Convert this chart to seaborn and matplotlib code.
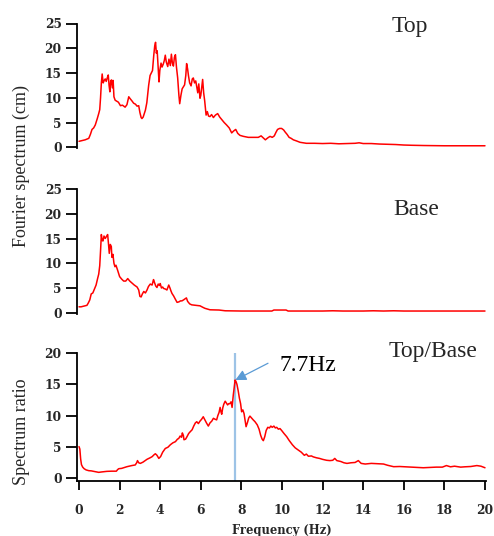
import matplotlib
matplotlib.use("Agg")
import matplotlib.pyplot as plt
import seaborn as sns
import pandas as pd

# ---------------- data ----------------
top_freq = [0.0, 0.1, 0.3, 0.48, 0.56, 0.64, 0.72, 0.8, 0.9, 0.97, 1.02, 1.06, 1.1, 1.14, 1.19, 1.24, 1.29,
            1.34, 1.39, 1.44, 1.48, 1.52, 1.56, 1.6, 1.64, 1.68, 1.72, 1.78, 1.86, 1.94, 2.04, 2.14, 2.27,
            2.36, 2.45, 2.52, 2.6, 2.69, 2.78, 2.86, 2.94, 3.0, 3.06, 3.1, 3.16, 3.22, 3.27, 3.34, 3.43,
            3.5, 3.55, 3.62, 3.68, 3.73, 3.77, 3.81, 3.85, 3.9, 3.94, 3.98, 4.04, 4.09, 4.15, 4.2, 4.25,
            4.3, 4.37, 4.43, 4.5, 4.55, 4.6, 4.65, 4.7, 4.75, 4.8, 4.86, 4.92, 4.96, 5.02, 5.08, 5.14,
            5.2, 5.26, 5.3, 5.35, 5.39, 5.45, 5.52, 5.58, 5.63, 5.69, 5.75, 5.8, 5.85, 5.9, 5.96, 6.0,
            6.04, 6.09, 6.14, 6.19, 6.26, 6.32, 6.38, 6.45, 6.53, 6.62, 6.72, 6.83, 6.93, 7.03, 7.15,
            7.27, 7.4, 7.52, 7.62, 7.72, 7.82, 7.93, 8.1, 8.34, 8.6, 8.83, 8.97, 9.1, 9.18, 9.3, 9.41,
            9.52, 9.62, 9.7, 9.78, 9.88, 9.98, 10.08, 10.15, 10.25, 10.35, 10.45, 10.56, 10.7, 10.89,
            11.2, 11.6, 12.0, 12.4, 12.8, 13.2, 13.6, 13.8, 14.0, 14.4, 14.8, 15.2, 15.6, 16.0, 16.4,
            17.0, 18.0, 19.0, 20.0]
top_amp = [1.2, 1.3, 1.5, 1.8, 2.6, 3.6, 3.9, 4.5, 5.8, 6.8, 7.6, 10.0, 13.0, 14.8, 13.0, 13.5, 13.8,
           13.3, 14.0, 14.6, 12.5, 11.2, 13.4, 13.6, 12.0, 13.5, 10.2, 9.5, 9.3, 9.1, 8.4, 8.5, 8.1,
           8.6, 10.2, 9.8, 9.4, 8.9, 8.7, 8.3, 8.4, 7.0, 6.0, 5.8, 6.1, 6.9, 7.5, 9.0, 12.5,
           14.5, 14.9, 15.5, 18.5, 20.5, 21.2, 19.0, 19.5, 16.0, 13.2, 15.5, 17.0, 16.2, 16.8, 17.5, 18.6,
           17.2, 16.3, 17.8, 16.5, 18.8, 17.0, 16.4, 18.2, 18.7, 16.2, 14.0, 10.5, 8.8, 10.5, 11.8, 12.2,
           12.6, 14.5, 16.9, 15.8, 14.5, 13.0, 12.4, 13.8, 14.0, 13.0, 13.4, 12.2, 11.0, 12.8, 9.9, 10.5,
           12.0, 13.7, 11.0, 9.4, 6.5, 7.2, 6.3, 6.2, 6.6, 6.0, 6.5, 6.8, 6.1, 5.6, 5.0,
           4.5, 3.9, 2.9, 3.3, 3.6, 2.8, 2.4, 2.2, 2.0, 2.0, 2.0, 2.3, 1.8, 1.5, 1.9, 2.2,
           2.0, 2.3, 3.0, 3.6, 3.8, 3.8, 3.5, 3.1, 2.6, 2.0, 1.8, 1.5, 1.3, 1.0,
           0.8, 0.8, 0.75, 0.8, 0.7, 0.75, 0.8, 0.9, 0.75, 0.75, 0.65, 0.6, 0.55, 0.45, 0.4,
           0.35, 0.3, 0.3, 0.3]

base_freq = [0.0, 0.1, 0.39, 0.46, 0.53, 0.6, 0.68, 0.76, 0.84, 0.92, 0.97, 1.02, 1.06, 1.1, 1.14, 1.18,
             1.23, 1.29, 1.35, 1.41, 1.45, 1.49, 1.54, 1.59, 1.62, 1.67, 1.72, 1.77, 1.82, 1.9, 2.0, 2.1,
             2.2, 2.3, 2.4, 2.5, 2.61, 2.72, 2.86, 2.94, 3.0, 3.06, 3.12, 3.19, 3.27, 3.35, 3.42, 3.51,
             3.6, 3.67, 3.71, 3.78, 3.84, 3.9, 3.96, 4.0, 4.06, 4.12, 4.17, 4.25, 4.33, 4.42, 4.48, 4.53,
             4.58, 4.66, 4.75, 4.83, 4.92, 5.0, 5.07, 5.15, 5.22, 5.29, 5.35, 5.45, 5.55, 5.75, 5.96, 6.1,
             6.2, 6.45, 6.9, 7.2, 8.0, 9.0, 9.5, 9.6, 10.2, 10.3, 11.0, 12.0, 12.5, 13.0, 14.0, 14.5,
             15.0, 15.5, 16.0, 17.0, 18.0, 19.0, 20.0]
base_amp = [1.2, 1.2, 1.5, 2.0, 2.6, 3.8, 4.0, 4.8, 5.6, 7.0, 7.8, 9.5, 12.5, 15.8, 14.6, 14.5,
            15.5, 15.0, 15.4, 15.8, 14.0, 12.0, 13.8, 13.4, 11.2, 11.8, 10.0, 9.3, 9.6, 8.6, 7.3, 6.8,
            6.4, 6.4, 6.9, 6.4, 6.0, 5.6, 5.2, 4.6, 3.3, 3.2, 3.8, 4.3, 4.0, 4.6, 5.3, 5.8,
            5.6, 6.7, 6.2, 5.4, 5.1, 5.8, 5.5, 5.9, 5.0, 5.2, 4.9, 4.8, 4.6, 5.6, 5.0, 4.4,
            3.9, 3.4, 2.7, 2.1, 2.2, 2.4, 2.4, 2.6, 2.8, 3.0, 2.3, 1.8, 1.6, 1.5, 1.4, 1.1,
            0.9, 0.6, 0.55, 0.4, 0.35, 0.35, 0.35, 0.55, 0.55, 0.35, 0.35, 0.35, 0.4, 0.35, 0.35, 0.4,
            0.35, 0.4, 0.35, 0.35, 0.35, 0.35, 0.35]

ratio_freq = [0.0, 0.04, 0.08, 0.12, 0.18, 0.25, 0.35, 0.48, 0.6, 0.75, 0.97, 1.1, 1.37, 1.6, 1.84, 1.9,
              1.96, 2.1, 2.36, 2.6, 2.77, 2.84, 2.88, 2.94, 3.02, 3.15, 3.35, 3.5, 3.6, 3.7, 3.76, 3.84,
              3.93, 4.02, 4.12, 4.25, 4.38, 4.5, 4.62, 4.75, 4.85, 4.91, 4.98, 5.05, 5.09, 5.14, 5.17,
              5.25, 5.32, 5.4, 5.48, 5.57, 5.65, 5.73, 5.8, 5.88, 5.96, 6.04, 6.12, 6.2, 6.28, 6.37,
              6.45, 6.54, 6.62, 6.7, 6.78, 6.84, 6.9, 6.95, 7.0, 7.03, 7.08, 7.13, 7.2, 7.26, 7.32,
              7.37, 7.43, 7.49, 7.54, 7.6, 7.65, 7.69, 7.74, 7.78, 7.84, 7.9, 7.96, 8.01, 8.07, 8.13,
              8.18, 8.23, 8.3, 8.36, 8.42, 8.5, 8.58, 8.67, 8.78, 8.87, 8.95, 9.02, 9.08, 9.15, 9.22,
              9.3, 9.38, 9.45, 9.52, 9.6, 9.67, 9.74, 9.82, 9.9, 9.98, 10.1, 10.23, 10.35, 10.51,
              10.65, 10.8, 10.95, 11.1, 11.2, 11.3, 11.45, 11.54, 11.7, 11.85, 12.0, 12.2, 12.36,
              12.5, 12.6, 12.7, 12.9, 13.05, 13.2, 13.4, 13.6, 13.76, 13.9, 14.1, 14.4, 14.7, 15.0,
              15.2, 15.5, 15.8, 16.1, 16.4, 16.7, 16.96, 17.3, 17.6, 17.9, 18.1, 18.3, 18.5, 18.8,
              19.0, 19.3, 19.6, 19.8, 20.0]
ratio_val = [5.0, 4.6, 3.0, 2.1, 1.7, 1.45, 1.25, 1.13, 1.1, 1.0, 0.86, 0.92, 1.02, 1.05, 1.05, 1.3,
             1.45, 1.5, 1.77, 1.95, 2.05, 2.4, 2.75, 2.4, 2.3, 2.5, 2.96, 3.2, 3.38, 3.7, 3.85, 3.6,
             3.1, 3.4, 4.1, 4.7, 4.9, 5.3, 5.6, 5.8, 6.2, 6.3, 6.7, 6.5, 7.2, 6.8, 6.1,
             6.2, 6.6, 7.1, 7.4, 7.7, 8.3, 8.8, 9.0, 8.7, 9.1, 9.4, 9.8, 9.3, 8.8, 8.3,
             8.8, 9.1, 9.55, 9.4, 9.3, 10.0, 10.5, 11.3, 10.5, 10.2, 11.2, 11.8, 12.3, 12.0, 11.7,
             11.9, 11.9, 12.2, 11.3, 13.3, 14.6, 15.7, 15.4, 15.0, 14.0, 12.8, 11.9, 10.6, 10.9, 10.3,
             9.2, 8.2, 8.9, 9.6, 9.9, 9.6, 9.3, 9.0, 8.5, 7.8, 6.8, 6.2, 5.95, 6.6, 7.6,
             8.1, 8.0, 8.3, 8.1, 8.3, 8.0, 8.1, 7.8, 7.9, 7.6, 7.1, 6.6, 6.0, 5.3,
             4.8, 4.45, 4.1, 3.6, 3.8, 3.45, 3.5, 3.35, 3.2, 3.1, 2.95, 2.8, 2.75,
             2.8, 3.1, 2.75, 2.6, 2.4, 2.3, 2.4, 2.45, 2.75, 2.3, 2.2, 2.3, 2.25, 2.2,
             2.0, 1.77, 1.8, 1.75, 1.7, 1.65, 1.6, 1.65, 1.7, 1.7, 1.95, 1.75, 1.85, 1.7,
             1.75, 1.8, 1.95, 1.85, 1.6]

x_ticks = [0, 2, 4, 6, 8, 10, 12, 14, 16, 18, 20]
amp_ticks = [0, 5, 10, 15, 20, 25]
ratio_ticks = [0, 5, 10, 15, 20]
peak_freq = 7.7
peak_val = 15.7

# ---------------- style ----------------
sns.set_style("ticks")
plt.rcParams["font.family"] = ["Liberation Serif", "DejaVu Serif"]

W, H = 494, 536
fig = plt.figure(figsize=(W / 100, H / 100), dpi=100)

def frac_axes(x0, y0, x1, y1):
    return fig.add_axes([x0 / W, 1 - y1 / H, (x1 - x0) / W, (y1 - y0) / H])

ax1 = frac_axes(77, 23.5, 486, 148)
ax2 = frac_axes(77, 189, 486, 313.5)
ax3 = frac_axes(77, 353.3, 486, 481)

tick_font = dict(family="DejaVu Serif", weight="bold", size=8.8)

panels = [
    (ax1, top_freq, top_amp, (-0.15, 25), amp_ticks),
    (ax2, base_freq, base_amp, (-0.15, 25), amp_ticks),
    (ax3, ratio_freq, ratio_val, (-0.53, 20), ratio_ticks),
]
for ax, fx, fy, ylim, yt in panels:
    df = pd.DataFrame({"f": fx, "v": fy})
    sns.lineplot(data=df, x="f", y="v", ax=ax, color="#ff0000", lw=1.1, estimator=None)
    ax.set_xlim(-0.1, 20.05)
    ax.set_ylim(*ylim)
    ax.set_yticks(yt)
    ax.set_yticklabels([str(t) for t in yt], fontdict=tick_font)
    ax.set_xlabel("")
    ax.set_ylabel("")
    for s in ["top", "right"]:
        ax.spines[s].set_visible(False)
    ax.spines["left"].set_linewidth(1.3)
    ax.spines["left"].set_color("black")
    ax.tick_params(axis="y", length=8.0, width=1.3, pad=3.0, color="black")

for ax in (ax1, ax2):
    ax.spines["bottom"].set_visible(False)
    ax.set_xticks([])

ax3.spines["bottom"].set_linewidth(1.3)
ax3.spines["bottom"].set_color("black")
ax3.set_xticks(x_ticks)
ax3.set_xticklabels([str(t) for t in x_ticks], fontdict=tick_font)
ax3.tick_params(axis="x", length=6.5, width=1.3, pad=10, color="black")
ax3.set_xlabel("Frequency (Hz)", fontdict=dict(family="DejaVu Serif", weight="bold", size=8.3), labelpad=5)

# vertical line & annotation
ax3.axvline(peak_freq, color="#9dc3e6", lw=1.6, zorder=1)
ax3.annotate("", xy=(peak_freq, peak_val), xytext=(9.31, 18.4),
             arrowprops=dict(arrowstyle="-|>", color="#5b9bd5", lw=0.9, mutation_scale=16,
                             shrinkA=0, shrinkB=0))
ax3.text(9.9, 18.0, "7.7Hz", ha="left", va="center", fontsize=17, color="black")

# panel titles
ax1.text(17.19, 23.3, "Top", ha="right", va="baseline", fontsize=17)
ax2.text(17.75, 19.75, "Base", ha="right", va="baseline", fontsize=17)
ax3.text(19.65, 19.46, "Top/Base", ha="right", va="baseline", fontsize=17, clip_on=False)

# y labels
fig.text(21 / W, 1 - 166 / H, "Fourier spectrum (cm)", rotation=90, ha="center", va="center", fontsize=13)
fig.text(21.5 / W, 1 - 431.5 / H, "Spectrum ratio", rotation=90, ha="center", va="center", fontsize=13)

fig.savefig("out.png", dpi=100)
